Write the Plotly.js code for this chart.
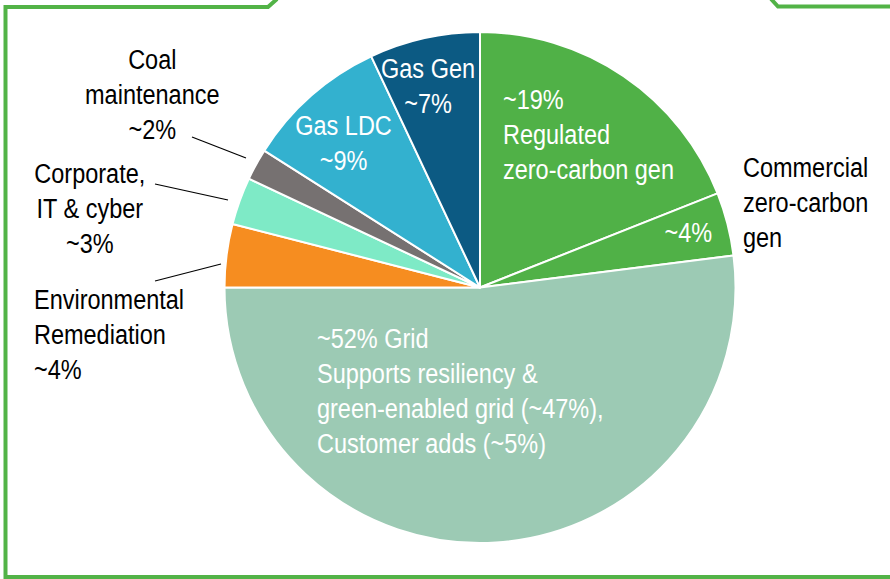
<!DOCTYPE html>
<html>
<head>
<meta charset="utf-8">
<script src="https://cdn.plot.ly/plotly-3.0.1.min.js"></script>
<style>html,body{margin:0;padding:0;background:#fff;}#chart{width:890px;height:579px;}</style>
</head>
<body>
<div id="chart"></div>
<script>
// Data (clockwise from 12 o'clock)
const categories = ["Regulated zero-carbon gen", "Commercial zero-carbon gen", "Grid", "Environmental Remediation", "Corporate, IT & cyber", "Coal maintenance", "Gas LDC", "Gas Gen"];
const shares = [19, 4, 52, 4, 3, 2, 9, 7];
const sliceColors = ["#50b147", "#50b147", "#9ccab4", "#f68d20", "#7eeac6", "#767171", "#33b1cf", "#0c5a83"];
const labelTexts = [
  "~19%<br>Regulated<br>zero-carbon gen",
  "Commercial<br>zero-carbon<br>gen",
  "~52% Grid<br>Supports resiliency &<br>green-enabled grid (~47%),<br>Customer adds (~5%)",
  "Environmental<br>Remediation<br>~4%",
  "Corporate,<br>IT & cyber<br>~3%",
  "Coal<br>maintenance<br>~2%",
  "Gas LDC<br>~9%",
  "Gas Gen<br>~7%"
];
const commercialInside = "~4%";

const W = 890, H = 579;
const px = x => x / W;
const py = y => (H - y) / H;
const FONT = '"Liberation Sans Narrow", "Arial Narrow", "Liberation Sans", Arial, sans-serif';
const FS = 27;
const SQUEEZE = 0.87; // horizontal condensing to mimic a narrow face

const trace = {
  type: 'pie',
  labels: categories,
  values: shares,
  sort: false,
  direction: 'clockwise',
  rotation: 0,
  textinfo: 'none',
  hoverinfo: 'label+percent',
  marker: {colors: sliceColors, line: {color: '#ffffff', width: 2}},
  domain: {x: [px(224.5), px(735.5)], y: [py(543), py(32)]},
  showlegend: false
};

function ann(text, x, y, opts) {
  return Object.assign({
    text: text, x: px(x), y: py(y), xref: 'paper', yref: 'paper',
    showarrow: false, xanchor: 'center', yanchor: 'middle', align: 'center',
    font: {family: FONT, size: FS, color: '#000'}
  }, opts || {});
}
const white = {family: FONT, size: FS, color: '#ffffff'};

const annotations = [
  ann(labelTexts[0], 501, 135, {xanchor: 'left', align: 'left', font: white}),
  ann(commercialInside, 688, 233, {font: white}),
  ann(labelTexts[1], 741, 203, {xanchor: 'left', align: 'left'}),
  ann(labelTexts[2], 315, 391, {xanchor: 'left', align: 'left', font: white}),
  ann(labelTexts[3], 32, 335, {xanchor: 'left', align: 'left'}),
  ann(labelTexts[4], 90, 209),
  ann(labelTexts[5], 152, 95),
  ann(labelTexts[6], 343, 143, {font: white}),
  ann(labelTexts[7], 428, 87, {font: white})
];

function seg(x0, y0, x1, y1, color, width) {
  return {type: 'line', xref: 'paper', yref: 'paper', x0: px(x0), y0: py(y0), x1: px(x1), y1: py(y1),
          line: {color: color, width: width}};
}
const frame = '#52b347';
const shapes = [
  // leader lines
  seg(192, 137, 246, 158, '#000', 1.2),
  seg(155, 184, 228, 200, '#000', 1.2),
  seg(155, 281, 221, 264, '#000', 1.2),
  // frame
  {type: 'path', xref: 'paper', yref: 'paper',
   path: `M ${px(277)},${py(-1)} L ${px(268)},${py(7)} L ${px(5.5)},${py(7)} L ${px(5.5)},${py(577)} L ${px(891)},${py(577)}`,
   line: {color: frame, width: 4}},
  {type: 'path', xref: 'paper', yref: 'paper',
   path: `M ${px(771)},${py(-1)} L ${px(778)},${py(6.5)} L ${px(891)},${py(6.5)}`,
   line: {color: frame, width: 4}}
];

const layout = {
  width: W, height: H,
  margin: {l: 0, r: 0, t: 0, b: 0},
  paper_bgcolor: '#ffffff',
  plot_bgcolor: '#ffffff',
  showlegend: false,
  annotations: annotations,
  shapes: shapes
};

Plotly.newPlot('chart', [trace], layout, {displayModeBar: false, staticPlot: true}).then(gd => {
  gd.querySelectorAll('g.annotation').forEach(g => {
    const idx = +g.getAttribute('data-index');
    const a = layout.annotations[idx];
    const t = g.querySelector('text.annotation-text');
    if (!t || !a) return;
    const bb = t.getBBox();
    const cx = a.align === 'left' ? bb.x : bb.x + bb.width / 2;
    const prev = t.getAttribute('transform') || '';
    t.setAttribute('transform', `${prev} translate(${cx},0) scale(${SQUEEZE},1) translate(${-cx},0)`);
  });
});
</script>
</body>
</html>
